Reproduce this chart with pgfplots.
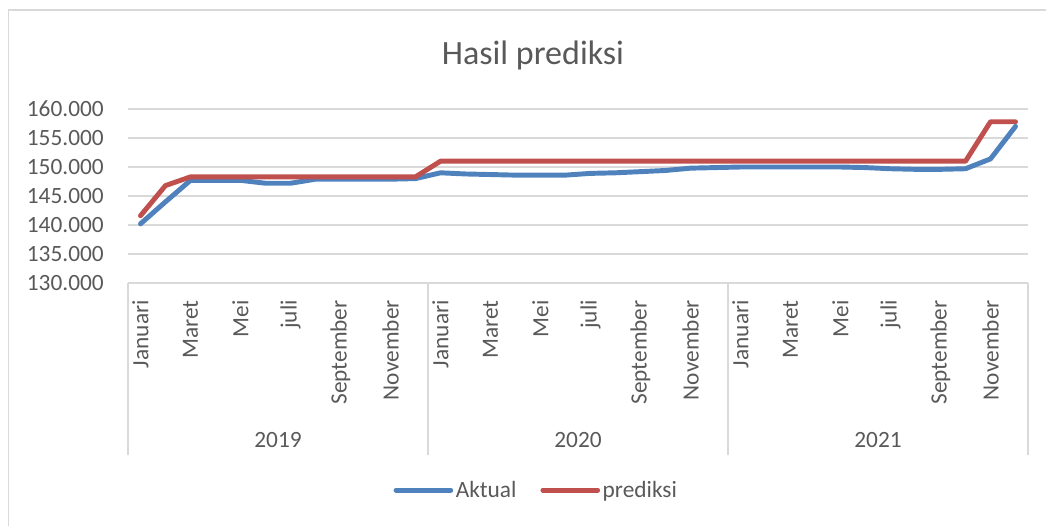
\documentclass[border=0pt]{standalone}
\usepackage{fontspec}
\setmainfont{Carlito}
\usepackage{pgfplots}
\usepackage{pgfplotstable}
\pgfplotsset{compat=1.18}
\definecolor{cblue}{HTML}{4F81BD}
\definecolor{cred}{HTML}{C0504D}
\definecolor{ctext}{HTML}{595959}
\definecolor{cgrid}{HTML}{D9D9D9}

\pgfplotstableread{
idx aktual prediksi
0  140200 141600
1  144000 146800
2  147700 148300
3  147700 148300
4  147700 148300
5  147200 148300
6  147200 148300
7  147900 148300
8  147900 148300
9  147900 148300
10 147900 148300
11 148000 148300
12 149000 151000
13 148800 151000
14 148700 151000
15 148600 151000
16 148600 151000
17 148600 151000
18 148900 151000
19 149000 151000
20 149200 151000
21 149400 151000
22 149800 151000
23 149900 151000
24 150000 151000
25 150000 151000
26 150000 151000
27 150000 151000
28 150000 151000
29 149900 151000
30 149700 151000
31 149600 151000
32 149600 151000
33 149700 151000
34 151400 157800
35 157000 157800
}\datatable

\begin{document}
\begin{tikzpicture}
\useasboundingbox (0,0) rectangle (784.5pt,394.5pt);
% chart border (top and left visible)
\draw[cgrid, line width=1.1pt] (6.25pt,0pt) -- (6.25pt,387pt) -- (784.5pt,387pt);
% title
\node[text=ctext, font=\fontsize{25.5}{30}\selectfont] at (399.75pt,353.25pt) {Hasil prediksi};
\begin{axis}[
  at={(96pt,182.25pt)}, anchor=south west,
  scale only axis, width=675pt, height=130.5pt,
  xmin=-0.5, xmax=35.5, ymin=130000, ymax=160000,
  ytick={130000,135000,140000,145000,150000,155000,160000},
  scaled y ticks=false,
  /pgf/number format/fixed,
  /pgf/number format/precision=0,
  /pgf/number format/1000 sep={.},
  /pgf/number format/assume math mode=true,
  xtick={0,2,...,34},
  xticklabels={Januari,Maret,Mei,juli,September,November,Januari,Maret,Mei,juli,September,November,Januari,Maret,Mei,juli,September,November},
  axis x line*=bottom, axis y line*=left,
  x axis line style={draw=cgrid, line width=0.9pt, -},
  y axis line style={draw=none},
  major tick length=0pt,
  ymajorgrids, grid style={cgrid, line width=0.9pt},
  tick label style={font=\fontsize{17.5}{21}\selectfont, text=ctext},
  yticklabel style={anchor=east, inner sep=0pt},
  yticklabel shift=18pt,
  xticklabel style={rotate=90, anchor=east, inner sep=0pt},
  xticklabel shift=12.75pt,
  clip=false,
  legend style={at={(rel axis cs:0.454,-1.19)}, anchor=center, draw=none, fill=none,
    legend columns=2, font=\fontsize{17.5}{21}\selectfont, text=ctext,
    /tikz/every even column/.append style={column sep=16pt},
    nodes={inner sep=2pt}},
  legend image code/.code={\draw[#1, line cap=round] (0pt,0pt) -- (41pt,0pt);},
]
\addplot[cblue, line width=3.7pt, line join=round, line cap=round] table[x=idx, y=aktual] {\datatable};
\addlegendentry{Aktual}
\addplot[cred, line width=3.7pt, line join=round, line cap=round] table[x=idx, y=prediksi] {\datatable};
\addlegendentry{prediksi}
\draw[cgrid, line width=0.9pt] (axis cs:-0.5,130000) -- ([yshift=-129pt]axis cs:-0.5,130000);
\draw[cgrid, line width=0.9pt] (axis cs:11.5,130000) -- ([yshift=-129pt]axis cs:11.5,130000);
\draw[cgrid, line width=0.9pt] (axis cs:23.5,130000) -- ([yshift=-129pt]axis cs:23.5,130000);
\draw[cgrid, line width=0.9pt] (axis cs:35.5,130000) -- ([yshift=-129pt]axis cs:35.5,130000);
\node[text=ctext, font=\fontsize{17.5}{21}\selectfont, yshift=-117.75pt] at (axis cs:5.5,130000) {2019};
\node[text=ctext, font=\fontsize{17.5}{21}\selectfont, yshift=-117.75pt] at (axis cs:17.5,130000) {2020};
\node[text=ctext, font=\fontsize{17.5}{21}\selectfont, yshift=-117.75pt] at (axis cs:29.5,130000) {2021};
\end{axis}
\end{tikzpicture}
\end{document}
